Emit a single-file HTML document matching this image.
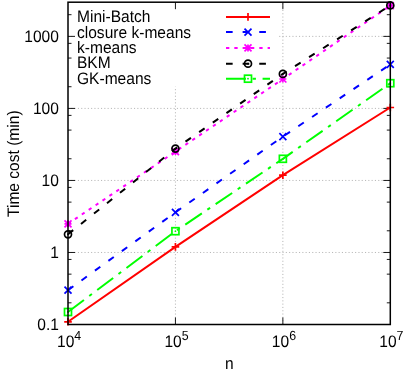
<!DOCTYPE html><html><head><meta charset="utf-8"><title>plot</title><style>html,body{margin:0;padding:0;background:#fff}svg{display:block}text{text-rendering:geometricPrecision;font-family:"Liberation Sans",sans-serif;font-size:15.55px;fill:#000}</style></head><body>
<svg width="403" height="370" viewBox="0 0 403 370">
<rect width="403" height="370" fill="#fff"/>
<path d="M68.0 252.47H390.3" stroke="#a4a4a4" stroke-width="0.8" stroke-dasharray="1.1 2.2" fill="none"/>
<path d="M68.0 180.44H390.3" stroke="#a4a4a4" stroke-width="0.8" stroke-dasharray="1.1 2.2" fill="none"/>
<path d="M68.0 108.41H390.3" stroke="#a4a4a4" stroke-width="0.8" stroke-dasharray="1.1 2.2" fill="none"/>
<path d="M68.0 36.38H390.3" stroke="#a4a4a4" stroke-width="0.8" stroke-dasharray="1.1 2.2" fill="none"/>
<path d="M175.43 324.5V2.2" stroke="#a4a4a4" stroke-width="0.8" stroke-dasharray="1.1 2.2" fill="none"/>
<path d="M282.87 324.5V2.2" stroke="#a4a4a4" stroke-width="0.8" stroke-dasharray="1.1 2.2" fill="none"/>
<rect x="74.5" y="2.2" width="204" height="84.5" fill="#fff"/>
<path d="M68.0 302.82h3.5M390.3 302.82h-3.5M68.0 274.15h3.5M390.3 274.15h-3.5M68.0 259.45h3.5M390.3 259.45h-3.5M68.0 252.47h7M390.3 252.47h-7M68.0 230.79h3.5M390.3 230.79h-3.5M68.0 202.12h3.5M390.3 202.12h-3.5M68.0 187.42h3.5M390.3 187.42h-3.5M68.0 180.44h7M390.3 180.44h-7M68.0 158.76h3.5M390.3 158.76h-3.5M68.0 130.09h3.5M390.3 130.09h-3.5M68.0 115.39h3.5M390.3 115.39h-3.5M68.0 108.41h7M390.3 108.41h-7M68.0 86.73h3.5M390.3 86.73h-3.5M68.0 58.06h3.5M390.3 58.06h-3.5M68.0 43.36h3.5M390.3 43.36h-3.5M68.0 36.38h7M390.3 36.38h-7M68.0 14.70h3.5M390.3 14.70h-3.5M175.43 324.5v-7M175.43 2.2v7M282.87 324.5v-7M282.87 2.2v7" stroke="#000" stroke-width="0.9" fill="none"/>
<path d="M226 16.9H270" stroke="#ff0000" stroke-width="2.0" fill="none"/>
<path d="M244.20 16.90H251.80M248.00 13.10V20.70" stroke="#ff0000" stroke-width="1.7" fill="none"/>
<polyline points="68.00,321.80 175.43,246.90 282.87,175.20 390.30,107.50" stroke="#ff0000" stroke-width="2.0" fill="none" stroke-linejoin="round"/>
<path d="M64.20 321.80H71.80M68.00 318.00V325.60" stroke="#ff0000" stroke-width="1.7" fill="none"/>
<path d="M171.63 246.90H179.23M175.43 243.10V250.70" stroke="#ff0000" stroke-width="1.7" fill="none"/>
<path d="M279.07 175.20H286.67M282.87 171.40V179.00" stroke="#ff0000" stroke-width="1.7" fill="none"/>
<path d="M386.50 107.50H394.10M390.30 103.70V111.30" stroke="#ff0000" stroke-width="1.7" fill="none"/>
<path d="M226 32.1H270" stroke-dasharray="6.65 9.98" stroke="#0000ff" stroke-width="2.0" fill="none"/>
<path d="M244.50 28.60L251.50 35.60M244.50 35.60L251.50 28.60" stroke="#0000ff" stroke-width="1.7" fill="none"/>
<polyline points="68.00,290.20 175.43,212.30 282.87,136.60 390.30,64.40" stroke-dasharray="6.65 9.98" stroke="#0000ff" stroke-width="2.0" fill="none" stroke-linejoin="round"/>
<path d="M64.50 286.70L71.50 293.70M64.50 293.70L71.50 286.70" stroke="#0000ff" stroke-width="1.7" fill="none"/>
<path d="M171.93 208.80L178.93 215.80M171.93 215.80L178.93 208.80" stroke="#0000ff" stroke-width="1.7" fill="none"/>
<path d="M279.37 133.10L286.37 140.10M279.37 140.10L286.37 133.10" stroke="#0000ff" stroke-width="1.7" fill="none"/>
<path d="M386.80 60.90L393.80 67.90M386.80 67.90L393.80 60.90" stroke="#0000ff" stroke-width="1.7" fill="none"/>
<path d="M226 47.9H270" stroke-dasharray="3.33 4.99" stroke="#ff00ff" stroke-width="2.0" fill="none"/>
<path d="M244.50 44.40L251.50 51.40M244.50 51.40L251.50 44.40M244.50 47.90H251.50M248.00 44.40V51.40" stroke="#ff00ff" stroke-width="1.7" fill="none"/>
<polyline points="68.00,223.80 175.43,151.60 282.87,79.00 390.30,5.60" stroke-dasharray="3.33 4.99" stroke="#ff00ff" stroke-width="2.0" fill="none" stroke-linejoin="round"/>
<path d="M64.50 220.30L71.50 227.30M64.50 227.30L71.50 220.30M64.50 223.80H71.50M68.00 220.30V227.30" stroke="#ff00ff" stroke-width="1.7" fill="none"/>
<path d="M171.93 148.10L178.93 155.10M171.93 155.10L178.93 148.10M171.93 151.60H178.93M175.43 148.10V155.10" stroke="#ff00ff" stroke-width="1.7" fill="none"/>
<path d="M279.37 75.50L286.37 82.50M279.37 82.50L286.37 75.50M279.37 79.00H286.37M282.87 75.50V82.50" stroke="#ff00ff" stroke-width="1.7" fill="none"/>
<path d="M386.80 2.10L393.80 9.10M386.80 9.10L393.80 2.10M386.80 5.60H393.80M390.30 2.10V9.10" stroke="#ff00ff" stroke-width="1.7" fill="none"/>
<path d="M226 63.7H270" stroke-dasharray="6.65 9.98" stroke="#000000" stroke-width="2.0" fill="none"/>
<circle cx="248.00" cy="63.70" r="3.5" stroke="#000000" stroke-width="1.7" fill="none"/><circle cx="248.00" cy="63.70" r="0.9" fill="#000000"/>
<polyline points="68.00,234.30 175.43,148.60 282.87,73.90 390.30,5.40" stroke-dasharray="6.65 9.98" stroke="#000000" stroke-width="2.0" fill="none" stroke-linejoin="round"/>
<circle cx="68.00" cy="234.30" r="3.5" stroke="#000000" stroke-width="1.7" fill="none"/><circle cx="68.00" cy="234.30" r="0.9" fill="#000000"/>
<circle cx="175.43" cy="148.60" r="3.5" stroke="#000000" stroke-width="1.7" fill="none"/><circle cx="175.43" cy="148.60" r="0.9" fill="#000000"/>
<circle cx="282.87" cy="73.90" r="3.5" stroke="#000000" stroke-width="1.7" fill="none"/><circle cx="282.87" cy="73.90" r="0.9" fill="#000000"/>
<circle cx="390.30" cy="5.40" r="3.5" stroke="#000000" stroke-width="1.7" fill="none"/><circle cx="390.30" cy="5.40" r="0.9" fill="#000000"/>
<path d="M226 78.7H270" stroke-dasharray="19.95 6.65 3.33 6.65" stroke="#00ff00" stroke-width="2.0" fill="none"/>
<rect x="244.50" y="75.20" width="7.0" height="7.0" stroke="#00ff00" stroke-width="1.7" fill="none"/><circle cx="248.00" cy="78.70" r="0.9" fill="#00ff00"/>
<polyline points="68.00,312.00 175.43,231.20 282.87,158.80 390.30,83.20" stroke-dasharray="19.95 6.65 3.33 6.65" stroke="#00ff00" stroke-width="2.0" fill="none" stroke-linejoin="round"/>
<rect x="64.50" y="308.50" width="7.0" height="7.0" stroke="#00ff00" stroke-width="1.7" fill="none"/><circle cx="68.00" cy="312.00" r="0.9" fill="#00ff00"/>
<rect x="171.93" y="227.70" width="7.0" height="7.0" stroke="#00ff00" stroke-width="1.7" fill="none"/><circle cx="175.43" cy="231.20" r="0.9" fill="#00ff00"/>
<rect x="279.37" y="155.30" width="7.0" height="7.0" stroke="#00ff00" stroke-width="1.7" fill="none"/><circle cx="282.87" cy="158.80" r="0.9" fill="#00ff00"/>
<rect x="386.80" y="79.70" width="7.0" height="7.0" stroke="#00ff00" stroke-width="1.7" fill="none"/><circle cx="390.30" cy="83.20" r="0.9" fill="#00ff00"/>
<rect x="68.0" y="2.2" width="322.30" height="322.30" stroke="#000" stroke-width="1.5" fill="none"/>
<g opacity="0.999">
<text transform="translate(77.00 22.10) scale(1 1.07)">Mini-Batch</text>
<text transform="translate(77.00 37.80) scale(1 1.07)">closure k-means</text>
<text transform="translate(77.00 53.00) scale(1 1.07)">k-means</text>
<text transform="translate(77.00 68.20) scale(1 1.07)">BKM</text>
<text transform="translate(77.00 83.90) scale(1 1.07)">GK-means</text>
<text transform="translate(58.90 330.20) scale(1 1.07)" text-anchor="end">0.1</text>
<text transform="translate(58.90 258.17) scale(1 1.07)" text-anchor="end">1</text>
<text transform="translate(58.90 186.14) scale(1 1.07)" text-anchor="end">10</text>
<text transform="translate(58.90 114.11) scale(1 1.07)" text-anchor="end">100</text>
<text transform="translate(58.90 42.08) scale(1 1.07)" text-anchor="end">1000</text>
<text transform="translate(57.00 346.80) scale(1 1.07)">10<tspan dy="-6.8" font-size="12.4px">4</tspan></text>
<text transform="translate(164.43 346.80) scale(1 1.07)">10<tspan dy="-6.8" font-size="12.4px">5</tspan></text>
<text transform="translate(271.87 346.80) scale(1 1.07)">10<tspan dy="-6.8" font-size="12.4px">6</tspan></text>
<text transform="translate(379.30 346.80) scale(1 1.07)">10<tspan dy="-6.8" font-size="12.4px">7</tspan></text>
<text transform="translate(229.30 369.00) scale(1 1.07)" text-anchor="middle">n</text>
<text transform="translate(19.10 163.70) rotate(-90) scale(1 1.07)" text-anchor="middle">Time cost (min)</text>
</g>
</svg></body></html>
